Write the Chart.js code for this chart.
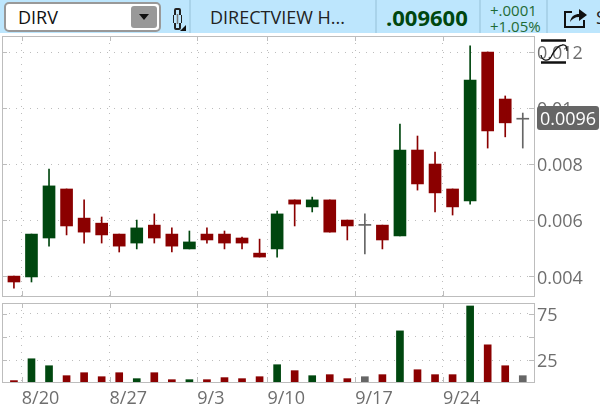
<!DOCTYPE html>
<html>
<head>
<meta charset="utf-8">
<script src="https://cdn.jsdelivr.net/npm/chart.js@4/dist/chart.umd.min.js"></script>
<style>
    html, body { margin: 0; padding: 0; background: #fff; overflow: hidden; }
    body { width: 600px; height: 412px; position: relative; font-family: "Open Sans", sans-serif; }
    canvas { position: absolute; left: 0; }
    #price_canvas { top: 33px; }
    #volume_canvas { top: 300px; }
    #header { position: absolute; left: 0; top: 0; width: 600px; height: 33px; background: #bde6fd; overflow: hidden; }
    #header div, #header svg { position: absolute; }
    .divider { top: 0; width: 2px; height: 33px; background: #a9d3ea; }
    #symbol_box { left: 4px; top: 2px; width: 153px; height: 26px; background: #fff; border: 2px solid #999; border-radius: 5px; }
    #symbol_text { left: 18px; top: 5px; font-size: 18px; line-height: 24px; color: #111; }
    #symbol_btn { left: 131px; top: 6px; width: 26px; height: 22px; background: #999; border-radius: 3px; }
    #name_text { left: 210px; top: 5px; font-size: 18px; line-height: 24px; color: #222; white-space: nowrap; }
    #last_text { left: 386px; top: 2px; font-size: 22px; line-height: 30px; font-weight: 700; color: #00470f; }
    #chg_text { left: 490px; top: 2px; font-size: 15px; line-height: 16px; color: #1f6b35; }
    #s_text { left: 596px; top: 5px; font-size: 18px; line-height: 24px; color: #222; }
    #last_badge { position: absolute; left: 537px; top: 106px; width: 62px; height: 24px; background: #666; border-radius: 3px; color: #fff; font-size: 18px; line-height: 24px; text-align: center; }
    #study_icon { position: absolute; left: 539px; top: 38px; }
</style>
</head>
<body>
<canvas id="price_canvas" width="600" height="270"></canvas>
<canvas id="volume_canvas" width="600" height="112"></canvas>

<div id="header">
    <div id="symbol_box"></div>
    <div id="symbol_text">DIRV</div>
    <div id="symbol_btn"></div>
    <svg style="left:138px;top:14px" width="12" height="7"><path d="M1 0H11L6 6Z" fill="#111"/></svg>
    <svg style="left:170px;top:6px" width="18" height="26"><path d="M5 9V4Q5 3 6 3H9Q10 3 10 4V9M5 17V22Q5 23 6 23H9Q10 23 10 22V17" fill="none" stroke="#222" stroke-width="2"/><path d="M3.5 9V17M11.5 9V17" stroke="#222" stroke-width="1"/><path d="M7.5 8V18" stroke="#777" stroke-width="1.5"/><path d="M16 19V25H10Z" fill="#111"/></svg>
    <div class="divider" style="left:189px"></div>
    <div id="name_text">DIRECTVIEW H...</div>
    <div class="divider" style="left:375px"></div>
    <div id="last_text">.009600</div>
    <div class="divider" style="left:479px"></div>
    <div id="chg_text">+.0001<br>+1.05%</div>
    <div class="divider" style="left:546px"></div>
    <svg style="left:563px;top:7px" width="26" height="22"><path d="M9 5H2V20H21V13" fill="none" stroke="#111" stroke-width="2"/><path d="M7 15C8 9 12 7 16 7V2L24 8L16 14V10C12 10 9 12 7 15Z" fill="#111"/></svg>
    <div id="s_text">S</div>
</div>

<div id="last_badge">0.0096</div>
<svg id="study_icon" width="30" height="28"><path d="M2 2.5H27M2 24.5H27" stroke="#111" stroke-width="2.5"/><path d="M2 17C3 23 9 24 12 19C15 13 18 8 23 7C27 6 28 9 28 13" fill="none" stroke="#111" stroke-width="1.3"/></svg>

<script>
const opens = [0.00401, 0.00398, 0.00537, 0.00712, 0.00608, 0.0059, 0.00551, 0.00519, 0.00583, 0.00551,
    0.00498, 0.00551, 0.00551, 0.00537, 0.00483, 0.00498, 0.00673, 0.00648, 0.00673, 0.00601,
    0.00582, 0.00583, 0.00544, 0.00851, 0.00801, 0.00712, 0.00669, 0.01201, 0.01033, 0.00961];
const closes = [0.0038, 0.00551, 0.00723, 0.0058, 0.00558, 0.00548, 0.00508, 0.00573, 0.00537, 0.00508,
    0.00523, 0.0053, 0.00519, 0.00519, 0.00469, 0.00623, 0.00658, 0.00673, 0.00558, 0.0058,
    0.00582, 0.0053, 0.00851, 0.0073, 0.00698, 0.00648, 0.01101, 0.00919, 0.00948, 0.00961];
const highs = [0.00401, 0.00551, 0.00783, 0.00712, 0.00673, 0.00612, 0.00551, 0.00601, 0.00623, 0.00573,
    0.00562, 0.00573, 0.00562, 0.0054, 0.00533, 0.00633, 0.00673, 0.00683, 0.00673, 0.00601,
    0.00623, 0.00583, 0.00944, 0.00901, 0.00844, 0.00712, 0.01223, 0.01201, 0.01044, 0.00983];
const lows = [0.00358, 0.0038, 0.00508, 0.00548, 0.00519, 0.00519, 0.00487, 0.00498, 0.00519, 0.00487,
    0.00498, 0.00519, 0.00498, 0.00498, 0.00469, 0.00469, 0.0058, 0.0063, 0.00558, 0.0053,
    0.0048, 0.00498, 0.00544, 0.00708, 0.0063, 0.00619, 0.00658, 0.00858, 0.00898, 0.00858];
const volumes = [2.9, 26.4, 18.9, 8.2, 11.4, 7.1, 11.4, 5, 11.4, 3.9,
    3.9, 3.9, 6.1, 5, 7.1, 20, 13.6, 8.2, 9.3, 5,
    7.1, 9.3, 56.4, 14.6, 9.3, 9.3, 83.2, 41.4, 18.9, 8.2];

// week starts, the vertical lines sit half a bar before these
const weekBars = [1, 6, 11, 15, 20, 25];
const weekLabels = ["8/20", "8/27", "9/3", "9/10", "9/17", "9/24"];
const priceTicks = [0.004, 0.006, 0.008, 0.01, 0.012];
const priceTickLabels = ["0.004", "0.006", "0.008", "0.01", "0.012"];
const volumeTicks = [25, 50, 75];
const volumeTickLabels = ["25", "", "75"];

const GREEN = "#00470f";
const RED = "#8b0000";
const GRAY = "#666666";
const LINE = "#bdbdbd";
const TEXT = "#6e6e6e";

const barIndex = opens.map((o, i) => i);

function barColor(i) {
    if (closes[i] > opens[i]) return GREEN;
    if (closes[i] < opens[i]) return RED;
    return GRAY;
}

function weekLine(bar) {
    return bar - 0.55;
}

function noPadding(scale) {
    scale.paddingLeft = 0;
    scale.paddingRight = 0;
    scale.paddingTop = 0;
    scale.paddingBottom = 0;
}

function xScale(showLabels) {
    return {
        type: "linear",
        offset: false,
        min: -0.68,
        max: 29.64,
        afterBuildTicks: (scale) => {
            scale.ticks = weekBars.map(b => ({ value: weekLine(b) }));
        },
        afterFit: (scale) => {
            scale.height = showLabels ? 30 : 0;
            noPadding(scale);
        },
        grid: { color: LINE, lineWidth: 1, drawTicks: false, offset: false },
        border: { display: false, dash: [1, 6] },
        ticks: {
            display: showLabels,
            autoSkip: false,
            maxRotation: 0,
            align: "start",
            padding: 6,
            color: TEXT,
            font: { family: "Open Sans", size: 18 },
            callback: (value, index) => weekLabels[index]
        }
    };
}

function yScale(min, max, tickValues, tickLabels) {
    return {
        position: "right",
        min: min,
        max: max,
        afterBuildTicks: (scale) => {
            scale.ticks = tickValues.map(v => ({ value: v }));
        },
        afterFit: (scale) => {
            scale.width = 66;
            noPadding(scale);
        },
        grid: { color: LINE, lineWidth: 1, drawTicks: false },
        border: { display: false, dash: [1, 6] },
        ticks: {
            autoSkip: false,
            crossAlign: "near",
            padding: 3,
            labelOffset: 2,
            color: TEXT,
            font: { family: "Open Sans", size: 18 },
            callback: (value, index) => tickLabels[index]
        }
    };
}

// frame round the panel and the short solid marks at the ends of the grid lines
const panelFrame = {
    id: "panelFrame",
    afterDraw(chart) {
        const { ctx, chartArea: { left, right, top, bottom }, scales } = chart;
        ctx.save();
        ctx.strokeStyle = LINE;
        ctx.lineWidth = 1;
        ctx.strokeRect(left + 0.5, top + 0.5, right - left, bottom - top);
        ctx.beginPath();
        scales.x.ticks.forEach(t => {
            const px = Math.round(scales.x.getPixelForValue(t.value)) + 0.5;
            ctx.moveTo(px, top);
            ctx.lineTo(px, top + 5);
            ctx.moveTo(px, bottom);
            ctx.lineTo(px, bottom - 5);
        });
        scales.y.ticks.forEach(t => {
            const py = Math.round(scales.y.getPixelForValue(t.value)) + 0.5;
            ctx.moveTo(left, py);
            ctx.lineTo(left + 5, py);
            ctx.moveTo(right, py);
            ctx.lineTo(right - 5, py);
        });
        ctx.stroke();
        ctx.restore();
    }
};

const wickData = barIndex.map(i => ({ x: i, y: [lows[i], highs[i]] }));
const bodyData = barIndex.map(i => ({ x: i, y: [opens[i], closes[i]] }));
const volumeData = barIndex.map(i => ({ x: i, y: volumes[i] }));

new Chart(document.getElementById("price_canvas"), {
    type: "bar",
    data: {
        datasets: [{
            label: "Wick",
            data: wickData,
            barThickness: 1,
            backgroundColor: (c) => barColor(c.dataIndex),
            borderWidth: 0,
            grouped: false
        }, {
            label: "Body",
            data: bodyData,
            barThickness: 12,
            minBarLength: 1,
            backgroundColor: (c) => barColor(c.dataIndex),
            borderWidth: 0,
            grouped: false
        }]
    },
    options: {
        responsive: false,
        animation: false,
        layout: { padding: { left: 2, top: 3, bottom: 7, right: 0 } },
        scales: {
            x: xScale(false),
            y: yScale(0.0033, 0.01258, priceTicks, priceTickLabels)
        },
        plugins: { legend: { display: false }, tooltip: { enabled: false } }
    },
    plugins: [panelFrame]
});

new Chart(document.getElementById("volume_canvas"), {
    type: "bar",
    data: {
        datasets: [{
            label: "Volume",
            data: volumeData,
            barThickness: 7,
            backgroundColor: (c) => barColor(c.dataIndex),
            borderWidth: 0
        }]
    },
    options: {
        responsive: false,
        animation: false,
        layout: { padding: { left: 2, top: 3, bottom: 0, right: 0 } },
        scales: {
            x: xScale(true),
            y: yScale(1.4, 86.4, volumeTicks, volumeTickLabels)
        },
        plugins: { legend: { display: false }, tooltip: { enabled: false } }
    },
    plugins: [panelFrame]
});
</script>
</body>
</html>
